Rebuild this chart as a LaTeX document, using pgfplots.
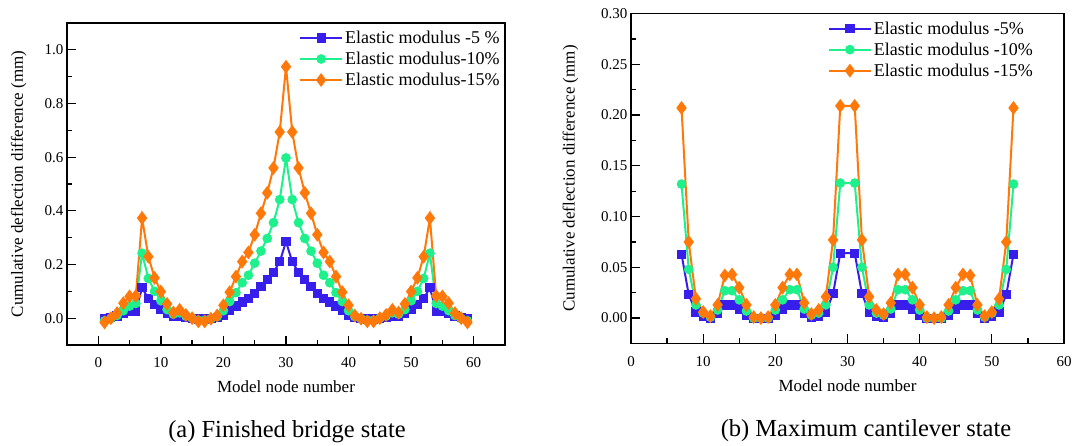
\documentclass[border=0pt]{standalone}
\usepackage{pgfplots}
\pgfplotsset{compat=1.18}
\usepackage{fontspec}
\setmainfont{Liberation Serif}
\definecolor{cblue}{RGB}{55,30,235}
\definecolor{cgreen}{RGB}{30,240,140}
\definecolor{corange}{RGB}{255,120,10}
\pgfplotsset{
  myaxis/.style={
    scale only axis,
    anchor=south west,
    axis line style={line width=1.6pt},
    tick align=inside,
    xtick pos=bottom, ytick pos=left,
    major tick length=9pt, minor tick length=5pt,
    every tick/.style={line width=1.3pt, black},
    minor x tick num=1, minor y tick num=1,
    tick label style={font=\fontsize{15}{17}\selectfont},
    /pgf/number format/assume math mode=true,
    label style={font=\fontsize{17}{20}\selectfont},
    xlabel={Model node number},
    ylabel={Cumulative deflection difference (mm)},
    xticklabel style={yshift=-9pt},
    legend cell align=left,
    legend style={draw=none, fill=none, font=\fontsize{18}{21}\selectfont, row sep=3pt, inner sep=1pt},
    legend image code/.code={\draw[mark repeat=2,mark phase=2] plot coordinates {(0pt,0pt) (21pt,0pt) (42pt,0pt)};},
    sb/.style={cblue, line width=2pt, mark=square*, mark size=3.6pt},
    sg/.style={cgreen, line width=2pt, mark=*, mark size=3.8pt},
    so/.style={corange, line width=2pt, mark=diamond*, mark size=5.3pt},
  }
}
\begin{document}
\begin{tikzpicture}
\useasboundingbox (0,0) rectangle (1088pt,445pt);
\begin{axis}[myaxis,
  at={(67pt,100pt)}, width=438pt, height=322pt,
  xmin=-5, xmax=65, ymin=-0.1, ymax=1.1,
  xtick={0,10,...,60}, ytick={0,0.2,...,1.0},
  yticklabel style={/pgf/number format/fixed, /pgf/number format/fixed zerofill, /pgf/number format/precision=1},
  xlabel style={at={(rel axis cs:0.5,-0.13)}, anchor=center},
  ylabel style={at={(rel axis cs:-0.11,0.5)}, anchor=center, rotate=0},
  legend style={at={(rel axis cs:0.995,0.985)}, anchor=north east},
]
\addplot[sb] coordinates {(1,0.000)(2,0.003)(3,0.008)(4,0.018)(5,0.025)(6,0.027)(7,0.113)(8,0.073)(9,0.050)(10,0.033)(11,0.018)(12,0.008)(13,0.006)(14,0.003)(15,0.000)(16,-0.003)(17,-0.003)(18,0.000)(19,0.003)(20,0.012)(21,0.028)(22,0.045)(23,0.060)(24,0.072)(25,0.093)(26,0.117)(27,0.143)(28,0.171)(29,0.210)(30,0.285)(31,0.210)(32,0.171)(33,0.143)(34,0.117)(35,0.093)(36,0.072)(37,0.060)(38,0.045)(39,0.028)(40,0.012)(41,0.003)(42,0.000)(43,-0.003)(44,-0.003)(45,0.000)(46,0.003)(47,0.006)(48,0.008)(49,0.018)(50,0.033)(51,0.050)(52,0.073)(53,0.113)(54,0.027)(55,0.025)(56,0.018)(57,0.008)(58,0.003)(59,0.000)};
\addlegendentry{Elastic modulus -5 \%}
\addplot[sg] coordinates {(1,-0.010)(2,-0.002)(3,0.010)(4,0.028)(5,0.045)(6,0.055)(7,0.242)(8,0.148)(9,0.100)(10,0.065)(11,0.032)(12,0.015)(13,0.020)(14,0.008)(15,0.000)(16,-0.008)(17,-0.008)(18,-0.002)(19,0.006)(20,0.028)(21,0.062)(22,0.095)(23,0.132)(24,0.160)(25,0.205)(26,0.250)(27,0.297)(28,0.356)(29,0.442)(30,0.597)(31,0.442)(32,0.356)(33,0.297)(34,0.250)(35,0.205)(36,0.160)(37,0.132)(38,0.095)(39,0.062)(40,0.028)(41,0.006)(42,-0.002)(43,-0.008)(44,-0.008)(45,0.000)(46,0.008)(47,0.020)(48,0.015)(49,0.032)(50,0.065)(51,0.100)(52,0.148)(53,0.242)(54,0.055)(55,0.045)(56,0.028)(57,0.010)(58,-0.002)(59,-0.010)};
\addlegendentry{Elastic modulus-10\%}
\addplot[so] coordinates {(1,-0.016)(2,0.000)(3,0.019)(4,0.056)(5,0.081)(6,0.083)(7,0.373)(8,0.229)(9,0.150)(10,0.099)(11,0.053)(12,0.021)(13,0.031)(14,0.012)(15,0.000)(16,-0.012)(17,-0.012)(18,-0.002)(19,0.010)(20,0.048)(21,0.097)(22,0.155)(23,0.211)(24,0.245)(25,0.311)(26,0.391)(27,0.467)(28,0.560)(29,0.694)(30,0.937)(31,0.694)(32,0.560)(33,0.467)(34,0.391)(35,0.311)(36,0.245)(37,0.211)(38,0.155)(39,0.097)(40,0.048)(41,0.010)(42,-0.002)(43,-0.012)(44,-0.012)(45,0.000)(46,0.012)(47,0.031)(48,0.021)(49,0.053)(50,0.099)(51,0.150)(52,0.229)(53,0.373)(54,0.083)(55,0.081)(56,0.056)(57,0.019)(58,0.000)(59,-0.016)};
\addlegendentry{Elastic modulus-15\%}
\end{axis}
\begin{axis}[myaxis,
  at={(631pt,101.5pt)}, width=433pt, height=330pt,
  xmin=0, xmax=60, ymin=-0.025, ymax=0.30,
  xtick={0,10,...,60}, ytick={0,0.05,...,0.30},
  yticklabel style={/pgf/number format/fixed, /pgf/number format/fixed zerofill, /pgf/number format/precision=2},
  xlabel style={at={(rel axis cs:0.5,-0.127)}, anchor=center},
  ylabel style={at={(rel axis cs:-0.14,0.5)}, anchor=center, rotate=0},
  legend style={at={(rel axis cs:0.452,0.985)}, anchor=north west},
]
\addplot[sb] coordinates {(7,0.063)(8,0.023)(9,0.006)(10,0.002)(11,0.000)(12,0.005)(13,0.013)(14,0.013)(15,0.009)(16,0.003)(17,0.000)(18,0.000)(19,0.000)(20,0.003)(21,0.009)(22,0.013)(23,0.013)(24,0.005)(25,0.001)(26,0.002)(27,0.006)(28,0.024)(29,0.064)(31,0.064)(32,0.024)(33,0.006)(34,0.002)(35,0.001)(36,0.005)(37,0.013)(38,0.013)(39,0.009)(40,0.003)(41,0.000)(42,0.000)(43,0.000)(44,0.003)(45,0.009)(46,0.013)(47,0.013)(48,0.005)(49,0.000)(50,0.002)(51,0.006)(52,0.023)(53,0.063)};
\addlegendentry{Elastic modulus -5\%}
\addplot[sg] coordinates {(7,0.132)(8,0.048)(9,0.013)(10,0.005)(11,0.001)(12,0.008)(13,0.027)(14,0.027)(15,0.018)(16,0.007)(17,0.000)(18,0.000)(19,0.000)(20,0.008)(21,0.018)(22,0.028)(23,0.028)(24,0.009)(25,0.003)(26,0.005)(27,0.013)(28,0.050)(29,0.133)(31,0.133)(32,0.050)(33,0.013)(34,0.005)(35,0.003)(36,0.009)(37,0.028)(38,0.028)(39,0.018)(40,0.008)(41,0.000)(42,0.000)(43,0.000)(44,0.007)(45,0.018)(46,0.027)(47,0.027)(48,0.008)(49,0.001)(50,0.005)(51,0.013)(52,0.048)(53,0.132)};
\addlegendentry{Elastic modulus -10\%}
\addplot[so] coordinates {(7,0.207)(8,0.075)(9,0.019)(10,0.006)(11,0.002)(12,0.013)(13,0.042)(14,0.043)(15,0.030)(16,0.013)(17,0.001)(18,0.000)(19,0.001)(20,0.013)(21,0.030)(22,0.043)(23,0.043)(24,0.015)(25,0.004)(26,0.008)(27,0.021)(28,0.077)(29,0.209)(31,0.209)(32,0.077)(33,0.021)(34,0.008)(35,0.004)(36,0.015)(37,0.043)(38,0.043)(39,0.030)(40,0.013)(41,0.001)(42,0.000)(43,0.001)(44,0.013)(45,0.030)(46,0.043)(47,0.042)(48,0.013)(49,0.002)(50,0.006)(51,0.019)(52,0.075)(53,0.207)};
\addlegendentry{Elastic modulus -15\%}
\end{axis}
\node[font=\fontsize{24.5}{28}\selectfont] at (287pt,13pt) {(a) Finished bridge state};
\node[font=\fontsize{24.5}{28}\selectfont] at (866pt,14pt) {(b) Maximum cantilever state};
\end{tikzpicture}
\end{document}
